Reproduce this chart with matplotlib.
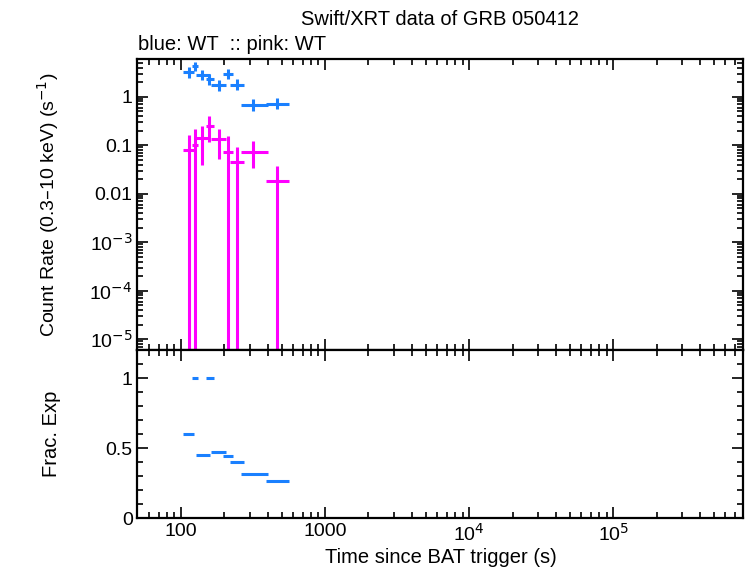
import numpy as np
import matplotlib
matplotlib.use("Agg")
import matplotlib.pyplot as plt
from matplotlib.ticker import FixedLocator, NullFormatter, LogLocator

plt.rcParams['font.family'] = ['Liberation Sans', 'DejaVu Sans']

# time bins (s): centre, low edge, high edge
t_mid = [113, 125, 140, 157, 184, 211, 244, 314, 468]
t_lo = [104, 119, 127, 149, 161.5, 195.5, 219, 260.6, 388]
t_hi = [123.7, 131, 159.6, 168.5, 205, 229, 273, 405, 560]

# blue (WT) count rates
blue_rate = [3.23, 4.23, 2.86, 2.36, 1.72, 2.99, 1.78, 0.692, 0.725]
blue_up = [4.09, 5.18, 3.62, 2.90, 2.18, 3.79, 2.29, 0.889, 0.945]
blue_dn = [2.48, 3.39, 2.18, 1.78, 1.315, 2.29, 1.36, 0.511, 0.554]

# pink (WT) count rates; lower limit 1e-9 means the bar runs off the axis
pink_rate = [0.0797, 0.101, 0.1386, 0.248, 0.134, 0.0715, 0.0446, 0.0715, 0.0184]
pink_up = [0.162, 0.215, 0.248, 0.398, 0.215, 0.1545, 0.0918, 0.1226, 0.0374]
pink_dn = [1e-9, 1e-9, 0.0392, 0.118, 0.052, 1e-9, 1e-9, 0.0345, 1e-9]

# fractional exposure
frac_exp = [0.6, 1.0, 0.45, 1.0, 0.475, 0.444, 0.403, 0.314, 0.264]

blue = '#1a80ff'
pink = '#ff00ff'

t_mid = np.array(t_mid)
xerr = [t_mid - np.array(t_lo), np.array(t_hi) - t_mid]

fig = plt.figure(figsize=(7.46, 5.68), dpi=100)
ax1 = fig.add_axes([0.1843, 0.3838, 0.8123, 0.5123])
ax2 = fig.add_axes([0.1843, 0.088, 0.8123, 0.2958])

br = np.array(blue_rate)
ax1.errorbar(t_mid, br, xerr=xerr,
             yerr=[br - np.array(blue_dn), np.array(blue_up) - br],
             fmt='none', ecolor=blue, elinewidth=2.2, capsize=0)
pr = np.array(pink_rate)
ax1.errorbar(t_mid, pr, xerr=xerr,
             yerr=[pr - np.array(pink_dn), np.array(pink_up) - pr],
             fmt='none', ecolor=pink, elinewidth=2.2, capsize=0)

ax2.errorbar(t_mid, frac_exp, xerr=xerr, fmt='none', ecolor=blue,
             elinewidth=2.2, capsize=0)

for ax in (ax1, ax2):
    ax.set_xscale('log')
    ax.set_xlim(50, 8e5)
    for s in ax.spines.values():
        s.set_linewidth(1.6)
    ax.tick_params(which='both', direction='in', top=True, right=True,
                   labelsize=14, width=1.2)
    ax.tick_params(which='major', length=8)
    ax.tick_params(which='minor', length=4)
    ax.xaxis.set_minor_locator(LogLocator(base=10, subs=np.arange(2, 10)))
    ax.xaxis.set_minor_formatter(NullFormatter())

ax1.set_yscale('log')
ax1.set_ylim(6e-6, 6)
ax1.set_yticks([1, 0.1, 0.01, 1e-3, 1e-4, 1e-5])
ax1.set_yticklabels(['1', '0.1', '0.01', '10$^{-3}$', '10$^{-4}$', '10$^{-5}$'])
ax1.yaxis.set_minor_locator(LogLocator(base=10, subs=np.arange(2, 10)))
ax1.yaxis.set_minor_formatter(NullFormatter())
ax1.tick_params(axis='x', labelbottom=False)
ax1.set_ylabel('Count Rate (0.3\u201310 keV) (s$^{-1}$)', fontsize=14)
ax1.yaxis.set_label_coords(-0.127, 0.5)

ax2.set_ylim(0, 1.2)
ax2.set_yticks([0, 0.5, 1])
ax2.set_yticklabels(['0', '0.5', '1'])
ax2.yaxis.set_minor_locator(FixedLocator(np.arange(0, 1.21, 0.1)))
ax2.set_xticks([100, 1000, 1e4, 1e5])
ax2.set_xticklabels(['100', '1000', '10$^{4}$', '10$^{5}$'])
ax2.set_ylabel('Frac. Exp', fontsize=14.5)
ax2.yaxis.set_label_coords(-0.127, 0.5)
ax2.set_xlabel('Time since BAT trigger (s)', fontsize=14.5, labelpad=2)

fig.text(0.59, 0.965, 'Swift/XRT data of GRB 050412', ha='center', va='center', fontsize=14.5)
fig.text(0.185, 0.922, 'blue: WT  :: pink: WT', ha='left', va='center', fontsize=14.5)

fig.savefig('out.png', dpi=100)
